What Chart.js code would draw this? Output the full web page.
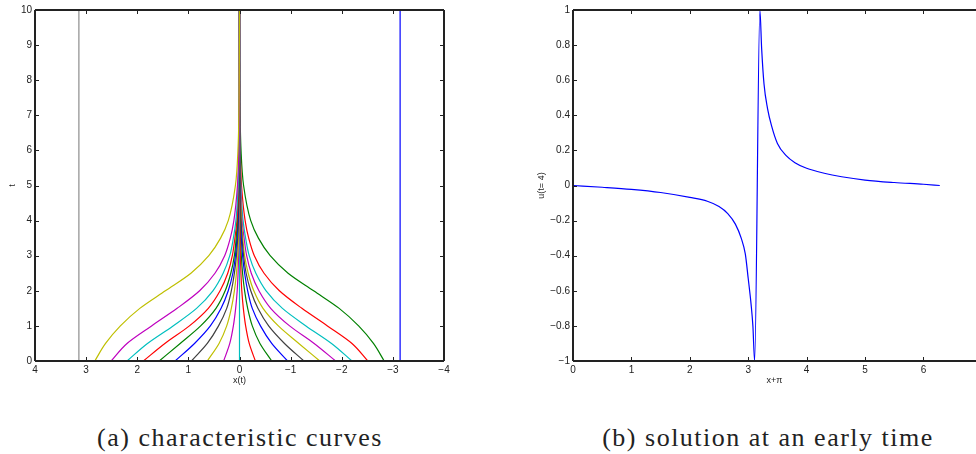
<!DOCTYPE html>
<html>
<head>
<meta charset="utf-8">
<script src="https://cdn.jsdelivr.net/npm/chart.js@4.4.0/dist/chart.umd.min.js"></script>
<style>
  html, body { margin: 0; padding: 0; background: #fff; width: 976px; height: 454px; overflow: hidden; }
  canvas { position: absolute; top: 0; }
  #curves { left: 0; }
  #solution { left: 520px; }
  .caption { position: absolute; top: 425px; font-family: "Liberation Serif", serif; font-size: 26px; line-height: 1;
             letter-spacing: 1.5px; color: #222; text-align: center; white-space: nowrap; }
</style>
</head>
<body>
<canvas id="curves" width="460" height="400"></canvas>
<canvas id="solution" width="456" height="400"></canvas>
<div class="caption" style="left:40px;width:400px">(a) characteristic curves</div>
<div class="caption" style="left:568px;width:400px">(b) solution at an early time</div>
<script>
// ---- (a) characteristic curves: x(t) for starting points k*pi/10 ----
const tSamples = [0, 0.5, 1, 1.5, 2, 2.5, 3, 3.5, 4, 5, 6, 8, 10];

const xFrom031 = [0.31, 0.19, 0.12, 0.075, 0.045, 0.028, 0.017, 0.01, 0.006, 0.002, 0.001, 0, 0];
const xFrom063 = [0.63, 0.40, 0.25, 0.16, 0.10, 0.06, 0.035, 0.02, 0.013, 0.005, 0.002, 0, 0];
const xFrom094 = [0.94, 0.63, 0.41, 0.25, 0.16, 0.10, 0.06, 0.035, 0.02, 0.008, 0.003, 0, 0];
const xFrom126 = [1.26, 0.88, 0.57, 0.36, 0.22, 0.13, 0.08, 0.05, 0.03, 0.01, 0.004, 0, 0];
const xFrom157 = [1.57, 1.16, 0.76, 0.46, 0.28, 0.17, 0.10, 0.065, 0.04, 0.013, 0.005, 0.001, 0];
const xFrom188 = [1.88, 1.46, 0.98, 0.61, 0.38, 0.23, 0.14, 0.09, 0.05, 0.02, 0.007, 0.001, 0];
const xFrom220 = [2.20, 1.80, 1.30, 0.84, 0.52, 0.32, 0.19, 0.12, 0.07, 0.026, 0.01, 0.001, 0];
const xFrom251 = [2.51, 2.20, 1.72, 1.22, 0.78, 0.48, 0.29, 0.18, 0.11, 0.04, 0.015, 0.002, 0];
const xFrom283 = [2.83, 2.62, 2.33, 1.95, 1.45, 0.95, 0.60, 0.37, 0.22, 0.08, 0.03, 0.005, 0];

const xFromM031 = [-0.31, -0.19, -0.12, -0.075, -0.045, -0.028, -0.017, -0.01, -0.006, -0.002, -0.001, 0, 0];
const xFromM063 = [-0.63, -0.40, -0.25, -0.16, -0.10, -0.06, -0.035, -0.02, -0.013, -0.005, -0.002, 0, 0];
const xFromM094 = [-0.94, -0.63, -0.41, -0.25, -0.16, -0.10, -0.06, -0.035, -0.02, -0.008, -0.003, 0, 0];
const xFromM126 = [-1.26, -0.88, -0.57, -0.36, -0.22, -0.13, -0.08, -0.05, -0.03, -0.01, -0.004, 0, 0];
const xFromM157 = [-1.57, -1.16, -0.76, -0.46, -0.28, -0.17, -0.10, -0.065, -0.04, -0.013, -0.005, -0.001, 0];
const xFromM188 = [-1.88, -1.46, -0.98, -0.61, -0.38, -0.23, -0.14, -0.09, -0.05, -0.02, -0.007, -0.001, 0];
const xFromM220 = [-2.20, -1.80, -1.30, -0.84, -0.52, -0.32, -0.19, -0.12, -0.07, -0.026, -0.01, -0.001, 0];
const xFromM251 = [-2.51, -2.20, -1.72, -1.22, -0.78, -0.48, -0.29, -0.18, -0.11, -0.04, -0.015, -0.002, 0];
const xFromM283 = [-2.83, -2.62, -2.33, -1.95, -1.45, -0.95, -0.60, -0.37, -0.22, -0.08, -0.03, -0.005, 0];

const xZero = [0, 0, 0, 0, 0, 0, 0, 0, 0, 0, 0, 0, 0];
const tEnds = [0, 10];
const xPlusPi = [3.1416, 3.1416];
const xMinusPi = [-3.1416, -3.1416];

// ---- (b) solution u at t = 4 against x + pi ----
const xShift = [0, 0.5, 1, 1.5, 2, 2.3, 2.5, 2.65, 2.78, 2.88, 2.95, 3.0, 3.05, 3.08, 3.11,
                3.20, 3.23, 3.27, 3.33, 3.4, 3.5, 3.65, 3.8, 4.0, 4.3, 4.6, 5.0, 5.5, 6.0, 6.28];
const uEarly = [0, -0.01, -0.022, -0.04, -0.068, -0.09, -0.12, -0.16, -0.22, -0.3, -0.39, -0.53, -0.68, -0.8, -1,
                1, 0.78, 0.58, 0.44, 0.34, 0.24, 0.17, 0.13, 0.098, 0.07, 0.05, 0.031, 0.017, 0.007, 0];

// matlab colour cycle
const C = { b: '#0000ff', g: '#008000', r: '#ff0000', c: '#00bfbf', m: '#bf00bf', y: '#bfbf00', k: '#404040' };

// plotting order from x0 = -pi up to x0 = pi, last one ends up on top
const curveList = [
  [xMinusPi, tEnds, C.b],
  [xFromM283, tSamples, C.g],
  [xFromM251, tSamples, C.r],
  [xFromM220, tSamples, C.c],
  [xFromM188, tSamples, C.m],
  [xFromM157, tSamples, C.y],
  [xFromM126, tSamples, C.k],
  [xFromM094, tSamples, C.b],
  [xFromM063, tSamples, C.g],
  [xFromM031, tSamples, C.r],
  [xZero, tSamples, C.c],
  [xFrom031, tSamples, C.m],
  [xFrom063, tSamples, C.y],
  [xFrom094, tSamples, C.k],
  [xFrom126, tSamples, C.b],
  [xFrom157, tSamples, C.g],
  [xFrom188, tSamples, C.r],
  [xFrom220, tSamples, C.c],
  [xFrom251, tSamples, C.m],
  [xFrom283, tSamples, C.y],
  [xPlusPi, tEnds, '#8c8c8c']
];

const curveSets = curveList.map(([xs, ts, col], i) => ({
  data: xs.map((x, j) => ({ x: x, y: ts[j] })),
  borderColor: col,
  order: curveList.length - i
}));

const tickFont = { family: 'Liberation Sans, Arial, sans-serif', size: 10 };
const titleFont = { family: 'Liberation Sans, Arial, sans-serif', size: 9 };
const minus = s => String(s).replace('-', '\u2212');

// box round the plot with small ticks pointing inwards
const frameTicks = {
  id: 'frameTicks',
  afterDatasetsDraw(chart, args, opts) {
    const { ctx, chartArea: a, scales: { x, y } } = chart;
    const len = 4;
    ctx.save();
    ctx.strokeStyle = '#222';
    ctx.lineWidth = 1;
    ctx.beginPath();
    x.ticks.forEach(t => {
      const p = Math.round(x.getPixelForValue(t.value)) + 0.5;
      ctx.moveTo(p, a.bottom); ctx.lineTo(p, a.bottom - len);
      ctx.moveTo(p, a.top); ctx.lineTo(p, a.top + len);
    });
    y.ticks.forEach(t => {
      const p = Math.round(y.getPixelForValue(t.value)) + 0.5;
      ctx.moveTo(a.left, p); ctx.lineTo(a.left + len, p);
      if (opts.right) { ctx.moveTo(a.right, p); ctx.lineTo(a.right - len, p); }
    });
    ctx.stroke();
    ctx.lineWidth = 2;
    ctx.beginPath();
    ctx.moveTo(a.left, a.top); ctx.lineTo(a.right, a.top);
    ctx.moveTo(a.left, a.top); ctx.lineTo(a.left, a.bottom);
    ctx.moveTo(a.left, a.bottom); ctx.lineTo(a.right, a.bottom);
    if (opts.right) { ctx.moveTo(a.right, a.top); ctx.lineTo(a.right, a.bottom); }
    ctx.stroke();
    ctx.restore();
  }
};

function axis(extra) {
  return Object.assign({
    type: 'linear',
    grid: { display: false, drawTicks: false },
    border: { display: false }
  }, extra);
}

new Chart(document.getElementById('curves'), {
  type: 'line',
  data: { datasets: curveSets },
  options: {
    responsive: false,
    animation: false,
    indexAxis: 'y',
    layout: { padding: { top: 10, right: 16, bottom: 0, left: 0 } },
    elements: { point: { radius: 0 }, line: { borderWidth: 1.2, cubicInterpolationMode: 'monotone' } },
    plugins: { legend: { display: false }, tooltip: { enabled: false }, frameTicks: { right: true } },
    scales: {
      x: axis({
        position: 'bottom', reverse: true, min: -4, max: 4,
        ticks: { stepSize: 1, font: tickFont, color: '#222', padding: 3, maxRotation: 0, autoSkip: false, callback: v => minus(v) },
        title: { display: true, text: 'x(t)', font: titleFont, color: '#222', padding: { top: 0, bottom: 14 } },
        afterFit: s => { s.height = 39; }
      }),
      y: axis({
        position: 'left', min: 0, max: 10,
        ticks: { stepSize: 1, font: tickFont, color: '#222', padding: 3, autoSkip: false },
        title: { display: true, text: 't', font: titleFont, color: '#222', padding: { top: 7, bottom: 0 } },
        afterFit: s => { s.width = 35; }
      })
    }
  },
  plugins: [frameTicks]
});

new Chart(document.getElementById('solution'), {
  type: 'line',
  data: {
    datasets: [{
      data: xShift.map((x, i) => ({ x: x, y: uEarly[i] })),
      borderColor: '#0000ff',
      borderWidth: 1.2
    }]
  },
  options: {
    responsive: false,
    animation: false,
    layout: { padding: { top: 10, right: 0, bottom: 0, left: 0 } },
    elements: { point: { radius: 0 }, line: { cubicInterpolationMode: 'monotone' } },
    plugins: { legend: { display: false }, tooltip: { enabled: false }, frameTicks: { right: false } },
    scales: {
      x: axis({
        position: 'bottom', min: 0, max: 6.9,
        ticks: { stepSize: 1, includeBounds: false, font: tickFont, color: '#222', padding: 3, maxRotation: 0, autoSkip: false },
        title: { display: true, text: 'x+\u03c0', font: titleFont, color: '#222', padding: { top: 0, bottom: 14 } },
        afterFit: s => { s.height = 39; }
      }),
      y: axis({
        position: 'left', min: -1, max: 1,
        ticks: { stepSize: 0.2, font: tickFont, color: '#222', padding: 3, autoSkip: false,
                 callback: v => minus(Number(v.toFixed(1))) },
        title: { display: true, text: 'u(t= 4)', font: titleFont, color: '#222', padding: { top: 16, bottom: 0 } },
        afterFit: s => { s.width = 53; }
      })
    }
  },
  plugins: [frameTicks]
});
</script>
</body>
</html>
